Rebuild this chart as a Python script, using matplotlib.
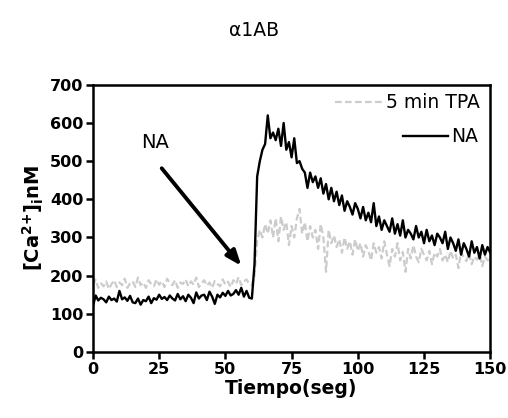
import numpy as np
import matplotlib.pyplot as plt
from matplotlib.lines import Line2D

plt.rcParams['font.family'] = ['DejaVu Sans']
plt.rcParams['mathtext.fontset'] = 'dejavusans'
plt.rcParams['mathtext.default'] = 'bf'

# time in seconds, one sample per second
tiempo = list(range(0, 151))

# [Ca2+]i (nM) after NA
na = [120, 148, 135, 142, 138, 130, 145, 136, 140, 132,
      160, 138, 143, 134, 147, 130, 128, 140, 124, 136,
      133, 145, 128, 141, 137, 150, 139, 144, 136, 148,
      140, 135, 152, 138, 146, 133, 150, 142, 128, 156,
      140, 148, 150, 136, 158, 145, 126, 150, 143, 155,
      147, 160, 148, 152, 162, 150, 168, 145, 160, 142,
      140, 230, 460, 500, 530, 545, 620, 560, 575, 555,
      585, 540, 600, 530, 550, 510, 560, 495, 500, 480,
      470, 430, 470, 445, 460, 430, 455, 415, 440, 400,
      430, 395, 420, 385, 410, 370, 395, 380, 360, 390,
      375, 350, 380, 345, 365, 340, 390, 330, 355, 320,
      345, 330, 315, 350, 310, 335, 305, 345, 300, 320,
      310, 295, 330, 300, 315, 285, 320, 290, 305, 280,
      310, 300, 285, 315, 270, 300, 285, 265, 295, 255,
      285, 270, 250, 290, 260, 275, 245, 280, 255, 275,
      260]

# [Ca2+]i (nM) after 5 min TPA
tpa = [175, 190, 168, 180, 172, 185, 165, 178, 188, 170,
       182, 175, 192, 168, 180, 185, 170, 195, 175, 182,
       168, 188, 178, 172, 190, 176, 185, 170, 192, 180,
       175, 188, 168, 182, 178, 190, 172, 185, 176, 195,
       170, 180, 188, 174, 182, 168, 186, 178, 172, 190,
       176, 184, 170, 188, 178, 196, 175, 185, 190, 178,
       175, 200, 290, 320, 300, 335, 310, 345, 300, 350,
       290, 355, 320, 340, 280, 330, 300, 350, 375, 310,
       340, 290, 330, 300, 320, 270, 335, 300, 210, 320,
       285, 305, 275, 295, 260, 300, 270, 290, 255, 295,
       265, 285, 250, 280, 265, 240, 285, 260, 275, 245,
       290, 255, 225, 270, 250, 285, 240, 262, 210, 270,
       245, 280, 250, 235, 270, 255, 240, 265, 230, 260,
       250, 270, 240, 255, 235, 265, 245, 255, 220, 262,
       248, 238, 258, 230, 250, 242, 255, 225, 250, 240,
       245]

fig = plt.figure(figsize=(5.08, 4.18), dpi=100)
ax = fig.add_axes([0.183, 0.158, 0.782, 0.639])

ax.plot(tiempo, tpa, color='#cccccc', lw=1.6, ls=(0, (3, 1.5)))
ax.plot(tiempo, na, color='black', lw=1.7)

ax.set_xlim(0, 150)
ax.set_ylim(0, 700)
ax.set_xticks(np.arange(0, 151, 25))
ax.set_yticks(np.arange(0, 701, 100))
for s in ax.spines.values():
    s.set_linewidth(1.8)
ax.tick_params(width=1.8, length=5, labelsize=11.5, pad=2)
for lab in ax.get_xticklabels() + ax.get_yticklabels():
    lab.set_fontweight('bold')

ax.set_xlabel('Tiempo(seg)', fontsize=13.5, fontweight='bold', labelpad=2)
ax.set_ylabel(r'[Ca$^{2{+}}$]$_{i}$nM', fontsize=14, fontweight='bold', labelpad=3)
fig.text(0.5, 0.928, 'α1AB', ha='center', va='center', fontsize=13.5)

# arrow marking NA addition
ax.annotate('', xy=(56.7, 220), xytext=(25.3, 487),
            arrowprops=dict(arrowstyle='-|>,head_length=0.9,head_width=0.35',
                            color='black', lw=2.8))
ax.text(23.4, 548, 'NA', fontsize=14, ha='center', va='center')

# legend entries, right aligned
h1 = Line2D([], [], color='#cccccc', lw=1.6, ls=(0, (3, 1.5)))
h2 = Line2D([], [], color='black', lw=1.7)
leg1 = ax.legend([h1], ['5 min TPA'], loc='center right', frameon=False,
                 fontsize=13.5, handlelength=2.6, handletextpad=0.15,
                 bbox_to_anchor=(0.975, 0.933), borderaxespad=0, borderpad=0)
ax.add_artist(leg1)
ax.legend([h2], ['NA'], loc='center right', frameon=False,
          fontsize=13.5, handlelength=2.4, handletextpad=0.15,
          bbox_to_anchor=(0.97, 0.805), borderaxespad=0, borderpad=0)

fig.savefig('out.png', dpi=100)
